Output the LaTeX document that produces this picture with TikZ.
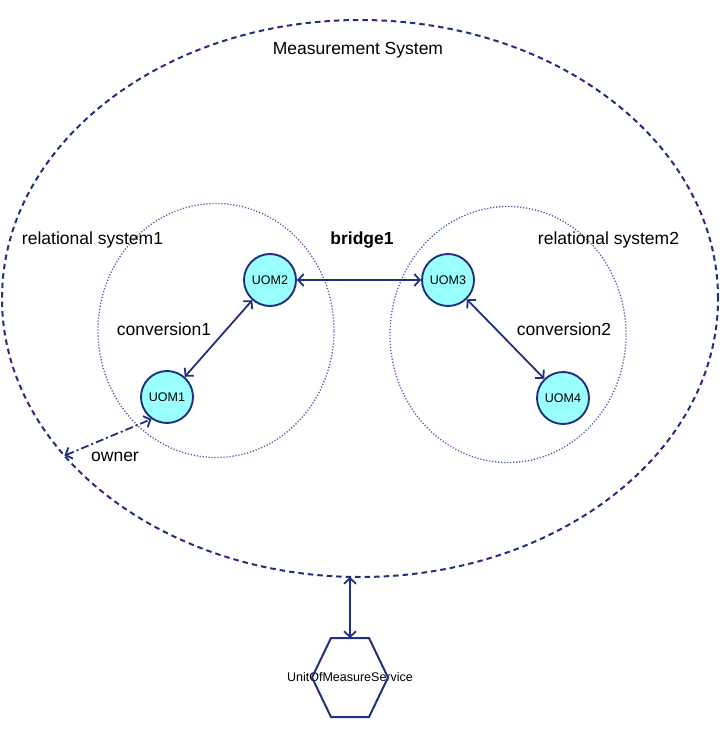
\documentclass[tikz,border=0pt]{standalone}
\usepackage{fontspec}
\setmainfont{Liberation Sans}
\usetikzlibrary{shapes}
\usetikzlibrary{arrows.meta}
\usetikzlibrary{positioning}
\definecolor{msnavy}{RGB}{32,48,128}
\definecolor{msdot}{RGB}{70,90,165}
\definecolor{uomfill}{RGB}{153,255,255}

\begin{document}
\begin{tikzpicture}[x=1pt, y=-1pt,
  uom/.style={draw=msnavy, circle, fill=uomfill, line width=1.9pt, minimum size=52pt, inner sep=0pt, font=\fontsize{12.5}{14}\selectfont},
  relsys/.style={draw=msdot, ellipse, line width=1.3pt, dash pattern=on 1.2pt off 1.8pt, minimum width=236pt, minimum height=254pt, inner sep=0pt, outer sep=0pt},
  lbl/.style={font=\fontsize{17.5}{20}\selectfont, inner sep=0pt},
  link/.style={draw=msnavy, line width=1.8pt, {Straight Barb[length=5.5pt,width=12pt]}-{Straight Barb[length=5.5pt,width=12pt]}}]
\useasboundingbox (0,0) rectangle (722,735);

\node[draw=msnavy, ellipse, line width=2pt, dash pattern=on 5.5pt off 4pt, minimum width=716pt, minimum height=557pt, inner sep=0pt, outer sep=0pt] (ms) at (360,298.5) {};
\node[relsys] (rs1) at (216,330.5) {};
\node[relsys, minimum height=256pt] (rs2) at (508,334.5) {};

\node[lbl] (mslabel) at (358,50) {Measurement System};
\node[lbl] (rs1label) at (92.5,240) {relational system1};
\node[lbl] (rs2label) at (608.5,240) {relational system2};
\node[lbl, font=\fontsize{17.5}{20}\selectfont\bfseries] (bridge) at (362,240) {bridge1};
\node[lbl] (conv1) at (164,329) {conversion1};
\node[lbl] (conv2) at (564,329) {conversion2};
\node[lbl] (owner) at (115,457) {owner};

\node[uom] (uom1) at (167,397) {UOM1};
\node[uom] (uom2) at (270,280) {UOM2};
\node[uom] (uom3) at (448,280) {UOM3};
\node[uom] (uom4) at (563,398) {UOM4};

\node[minimum width=76pt, minimum height=79pt, inner sep=0pt, outer sep=0pt] (ums) at (350,677.5) {};
\node[font=\fontsize{12.5}{14}\selectfont, inner sep=0pt] (umslabel) at (ums) {UnitOfMeasureService};
\draw[msnavy, line width=2pt] ([xshift=19pt]ums.north west) -- ([xshift=-19pt]ums.north east) -- (ums.east)
  -- ([xshift=-19pt]ums.south east) -- ([xshift=19pt]ums.south west) -- (ums.west) -- cycle;

\draw[link] (uom1) -- (uom2);
\draw[link] (uom2) -- (uom3);
\draw[link] (uom3) -- (uom4);
\draw[link, dash pattern=on 8pt off 3pt on 2pt off 3pt] (ms.208) -- (uom1.235);
\draw[link] (ms.south -| ums.north) -- (ums.north);
\end{tikzpicture}
\end{document}
